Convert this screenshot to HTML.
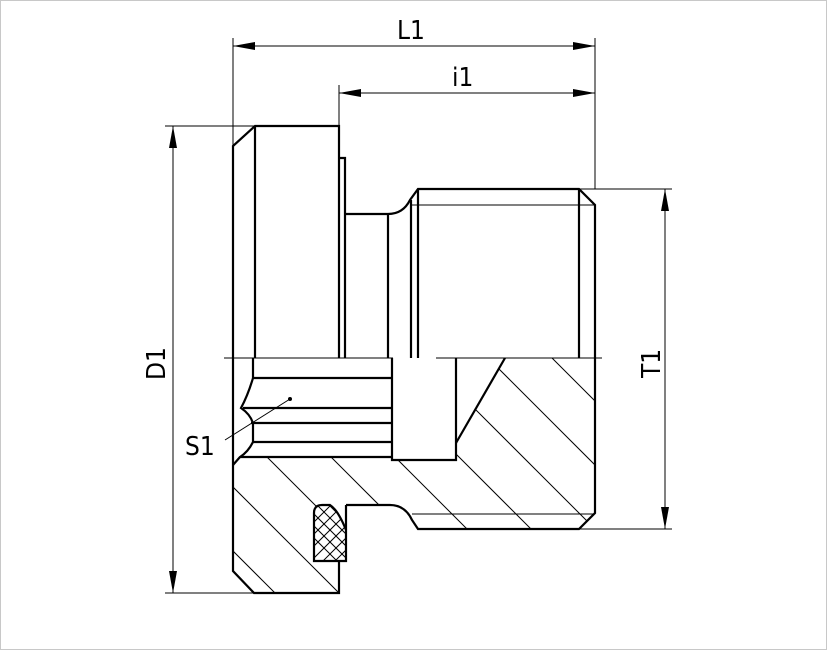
<!DOCTYPE html>
<html><head><style>
html,body{margin:0;padding:0;background:#fff;width:827px;height:650px;overflow:hidden;position:relative}
svg{display:block;position:absolute;left:0;top:0}
text{font-family:"DejaVu Sans Condensed","DejaVu Sans","Liberation Sans",sans-serif;font-size:26px;fill:#000}
</style></head><body>
<svg width="827" height="650" viewBox="0 0 827 650" xmlns="http://www.w3.org/2000/svg">
<rect x="0.5" y="0.5" width="826" height="649" fill="#fff" stroke="#c8c8c8"/>
<defs>
<clipPath id="body">
<path d="M233,465 L233,571 L254,593 L339,593 L339,561 L314,561 L314,513 Q314,505 322,505 L390,505 Q405,505 412,520 L418,529 L579,529 L595,513 L595,358 L505,358 L456,443 L456,460 L392,460 L392,457 L240,457 Z"/>
</clipPath>
<clipPath id="seal">
<path d="M314,561 L314,513 Q314,505 322,505 L330,505 Q338,510 346,530 L346,561 Z"/>
</clipPath>
</defs>
<g stroke="#000" fill="none">
<g stroke-width="1">
<line x1="233" y1="38" x2="233" y2="146"/>
<line x1="339" y1="85" x2="339" y2="126"/>
<line x1="595" y1="38" x2="595" y2="189"/>
<line x1="233" y1="46" x2="595" y2="46"/>
<line x1="339" y1="93" x2="595" y2="93"/>
<line x1="165" y1="126" x2="255" y2="126"/>
<line x1="165" y1="593" x2="254" y2="593"/>
<line x1="173" y1="126" x2="173" y2="593"/>
<line x1="579" y1="189" x2="672" y2="189"/>
<line x1="579" y1="529" x2="672" y2="529"/>
<line x1="665" y1="189" x2="665" y2="529"/>
<line x1="224" y1="358" x2="393" y2="358"/>
<line x1="436" y1="358" x2="602" y2="358"/>
<line x1="410" y1="205" x2="595" y2="205"/>
<line x1="412" y1="514" x2="595" y2="514"/>
<line x1="225" y1="440" x2="290" y2="399"/>
</g>
<g clip-path="url(#body)" stroke-width="1">
<line x1="-200" y1="-394" x2="800" y2="606"/>
<line x1="-200" y1="-330" x2="800" y2="670"/>
<line x1="-200" y1="-266" x2="800" y2="734"/>
<line x1="-200" y1="-202" x2="800" y2="798"/>
<line x1="-200" y1="-138" x2="800" y2="862"/>
<line x1="-200" y1="-74" x2="800" y2="926"/>
<line x1="-200" y1="-10" x2="800" y2="990"/>
<line x1="-200" y1="54" x2="800" y2="1054"/>
<line x1="-200" y1="118" x2="800" y2="1118"/>
</g>
<g clip-path="url(#seal)" stroke-width="1">
<line x1="290" y1="490" x2="370" y2="570"/><line x1="290" y1="502" x2="370" y2="582"/><line x1="290" y1="514" x2="370" y2="594"/><line x1="290" y1="478" x2="370" y2="558"/><line x1="290" y1="466" x2="370" y2="546"/>
<line x1="290" y1="570" x2="370" y2="490"/><line x1="290" y1="582" x2="370" y2="502"/><line x1="290" y1="594" x2="370" y2="514"/><line x1="290" y1="558" x2="370" y2="478"/><line x1="290" y1="546" x2="370" y2="466"/><line x1="290" y1="606" x2="370" y2="526"/>
</g>
<g stroke-width="2.2" stroke-linejoin="miter">
<path d="M233,358 L233,146 L255,126 L339,126 L339,358"/>
<line x1="255" y1="126" x2="255" y2="358"/>
<path d="M339,158 L345,158 L345,358"/>
<path d="M345,214 L388,214 Q403,214 410,200 L418,189 L579,189 L595,205 L595,358"/>
<line x1="388" y1="214" x2="388" y2="358"/>
<line x1="411" y1="200" x2="411" y2="358"/>
<line x1="418" y1="189" x2="418" y2="358"/>
<line x1="579" y1="189" x2="579" y2="358"/>
<path d="M233,358 L233,571 L254,593 L339,593 L339,561"/>
<path d="M253,358 L253,378 Q248,395 241,408 Q250,414 253,423 L253,442 Q248,452 240,457 L233,465"/>
<line x1="253" y1="378" x2="392" y2="378"/>
<line x1="243" y1="408" x2="392" y2="408"/>
<line x1="251" y1="423" x2="392" y2="423"/>
<line x1="253" y1="442" x2="392" y2="442"/>
<line x1="240" y1="457" x2="392" y2="457"/>
<path d="M392,358 L392,460 L456,460 L456,358"/>
<line x1="456" y1="443" x2="505" y2="358"/>
<path d="M595,358 L595,513 L579,529 L418,529 L412,520 Q405,505 390,505 L346,505"/>
<path d="M339,561 L314,561 L314,513 Q314,505 322,505 L330,505 Q338,510 346,530 L346,561 L339,561"/>
<line x1="346" y1="505" x2="346" y2="530"/>
</g>
</g>
<g fill="#000">
<polygon points="233,46 255,42 255,50"/>
<polygon points="595,46 573,42 573,50"/>
<polygon points="339,93 361,89 361,97"/>
<polygon points="595,93 573,89 573,97"/>
<polygon points="173,126 169,148 177,148"/>
<polygon points="173,593 169,571 177,571"/>
<polygon points="665,189 661,211 669,211"/>
<polygon points="665,529 661,507 669,507"/>
<circle cx="290" cy="399" r="2"/>
</g>
<text x="397" y="39">L1</text>
<text x="452" y="86">i1</text>
<text x="185" y="455">S1</text>
<text transform="translate(165,380) rotate(-90)">D1</text>
<text transform="translate(660,378) rotate(-90)">T1</text>
</svg>
</body></html>
